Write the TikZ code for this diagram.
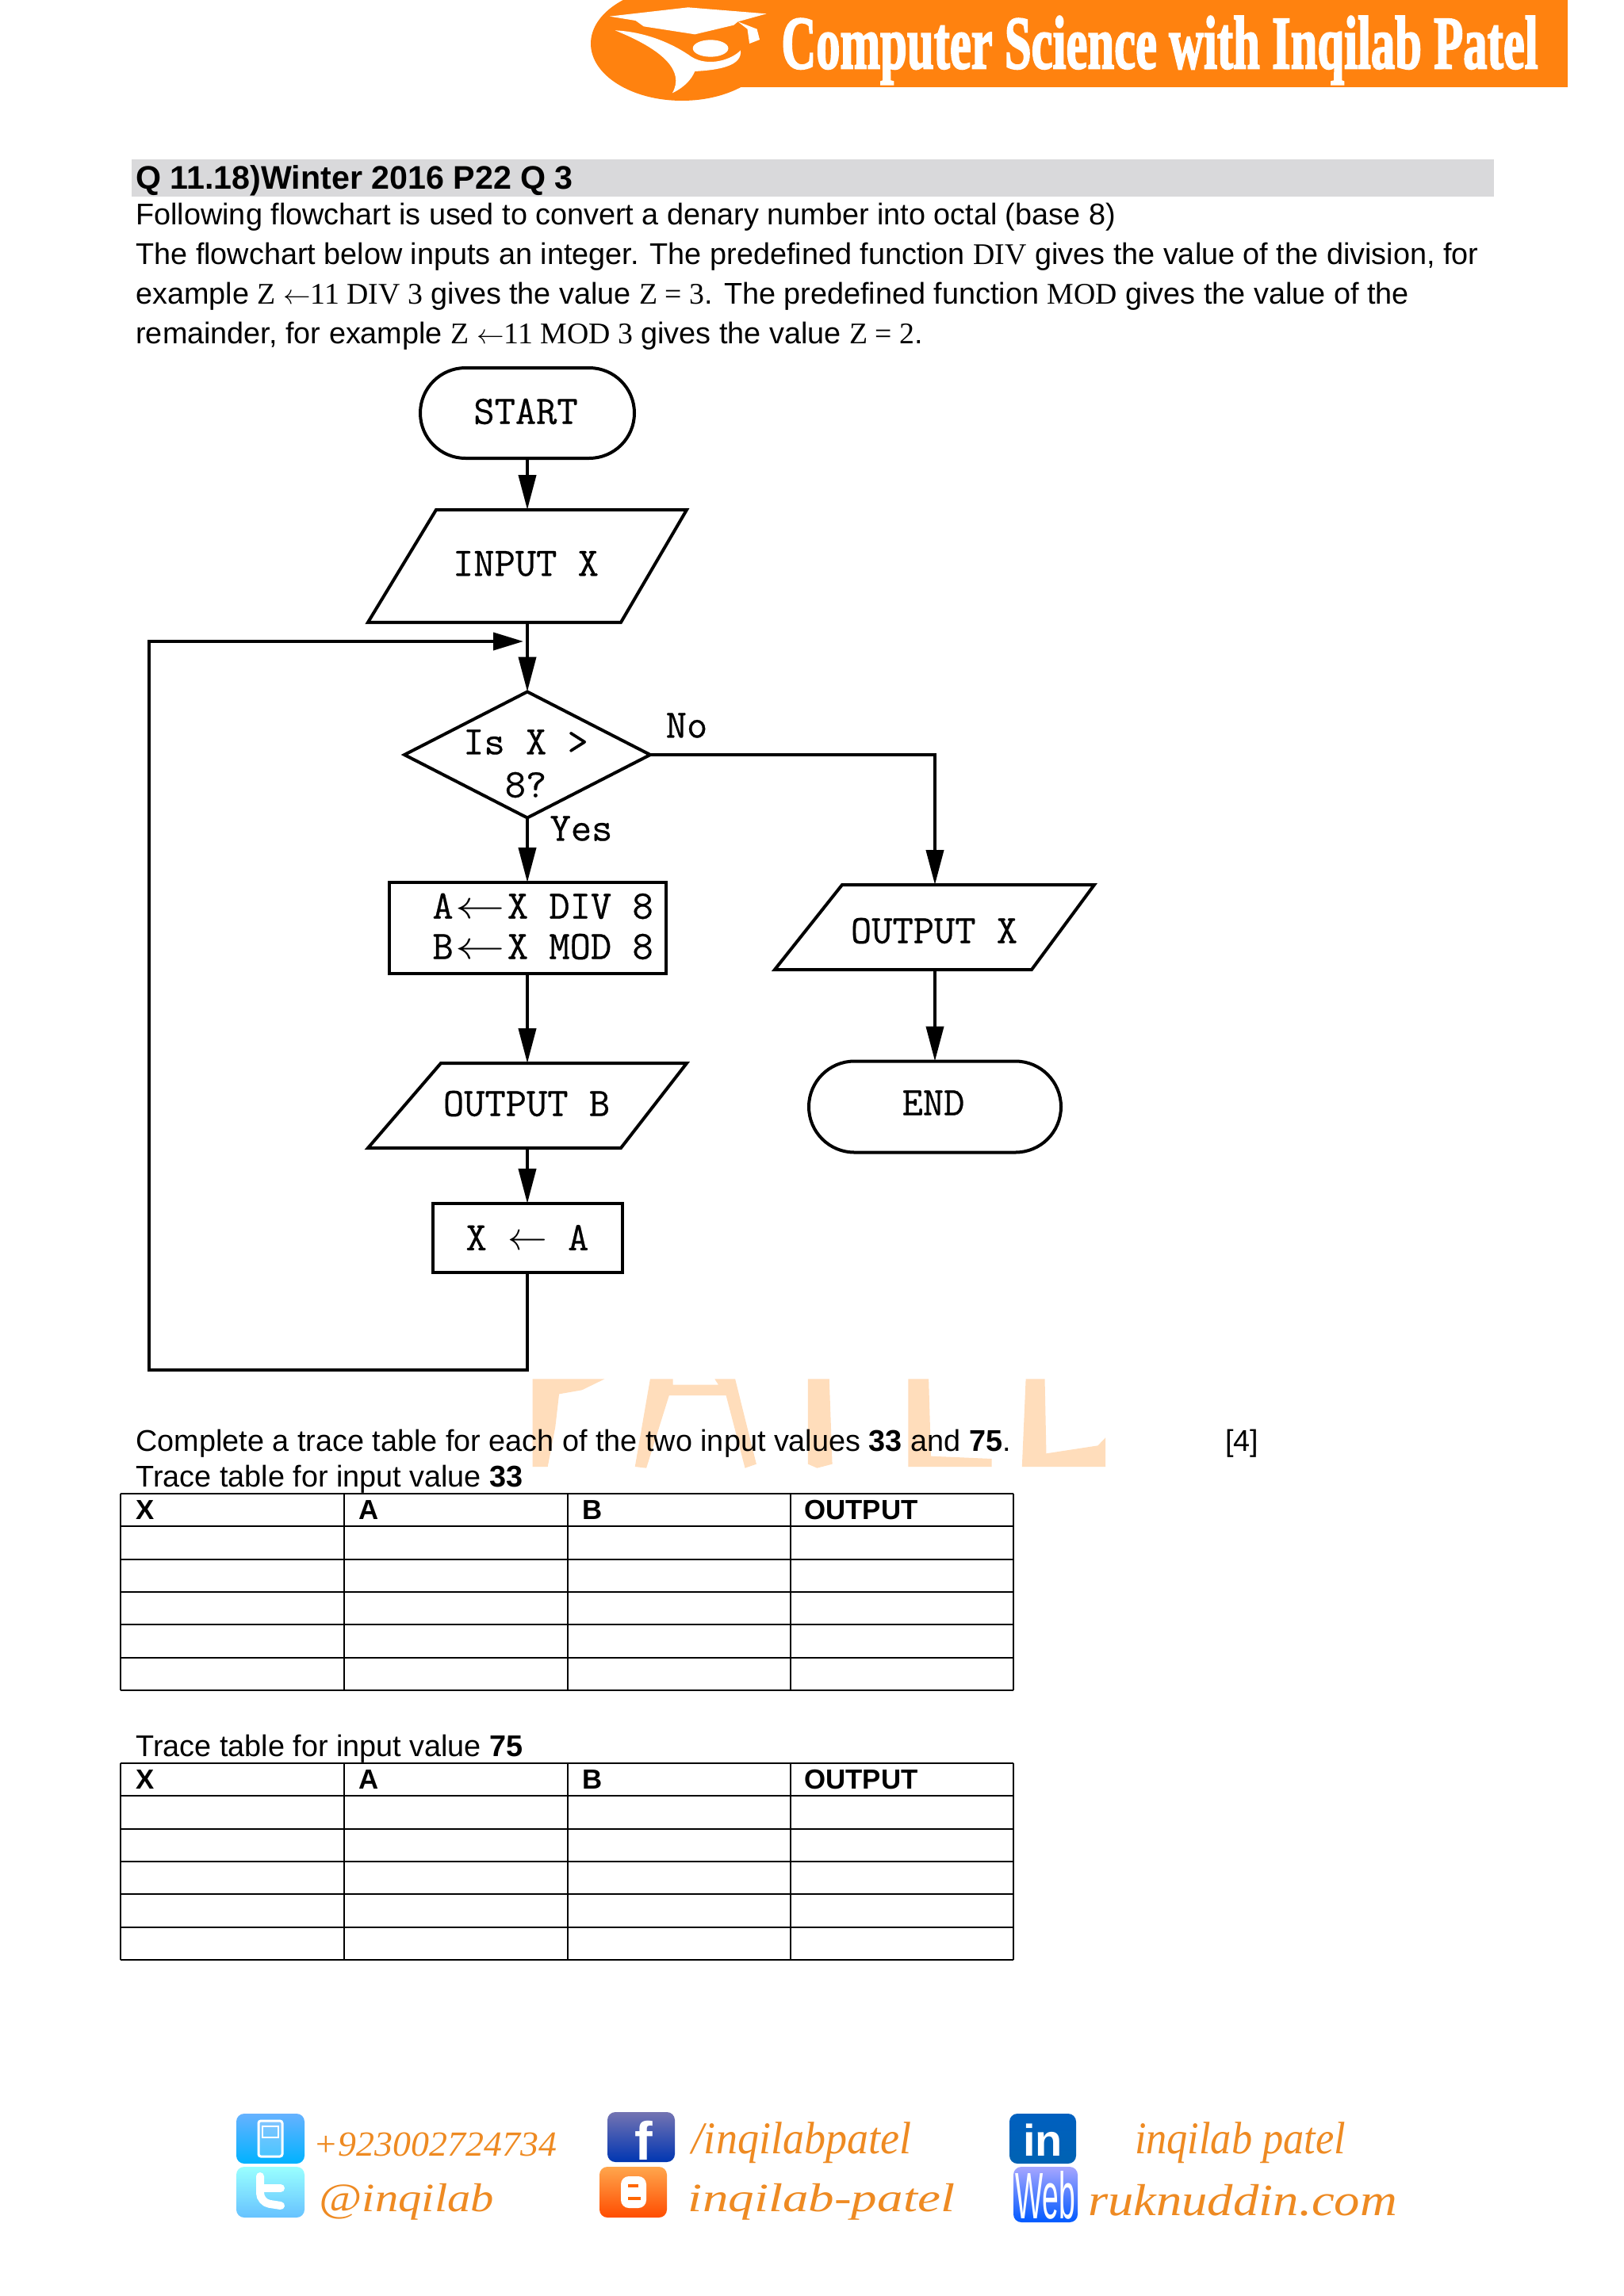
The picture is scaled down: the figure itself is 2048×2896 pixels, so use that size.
\documentclass[tikz,border=0pt]{standalone}
\usepackage{fontspec}
\usepackage{graphicx}
\usetikzlibrary{arrows.meta,shapes.geometric,shapes.misc}
\setmainfont{Liberation Sans}
\newfontfamily\serifx{Liberation Serif}
\newfontfamily\logof[FakeBold=2.5]{Liberation Serif Bold}
\newfontfamily\flowf[FakeBold=0.5]{Latin Modern Mono}
\newcommand{\bodyf}{\fontsize{18.9}{18.9}\selectfont}
\newcommand{\tabf}{\fontsize{17.4}{17.4}\selectfont}
\newcommand{\sr}[1]{{\serifx #1}}
\newcommand{\wideleft}{\hspace{1.5pt}\scalebox{1.25}[1]{$\leftarrow$}\hspace{1.5pt}}
\definecolor{bannerorange}{HTML}{FF820F}
\definecolor{watermark}{HTML}{FFDDBB}
\definecolor{footorange}{HTML}{EE8A22}
\definecolor{titlegray}{HTML}{D9D9DB}
\tikzset{
  x=0.5pt,y=-0.5pt,
  flowline/.style={line width=2pt,draw=black,line join=miter},
  flowarrow/.style={flowline,-{Triangle[length=22pt,width=11pt,fill=black]}},
  sidearrow/.style={flowline,-{Triangle[length=19pt,width=11pt,fill=black]}},
  terminal/.style={rounded rectangle,draw=black,line width=2pt,inner sep=0,outer sep=0},
  procbox/.style={rectangle,draw=black,line width=2pt,inner sep=0,outer sep=0},
  decision/.style={diamond,draw=black,line width=2pt,inner sep=0,outer sep=0},
  flowtext/.style={inner sep=0,font=\flowf\fontsize{25.5}{25.5}\selectfont},
  bodytext/.style={anchor=base west,inner sep=0,font=\bodyf},
  cellhead/.style={anchor=base west,inner sep=0,font=\tabf\bfseries},
  tabline/.style={line width=1pt,draw=black},
  foottext/.style={inner sep=0,text=footorange},
  icon/.style={rounded corners=5pt,draw=none},
  icontext/.style={inner sep=0,text=white,font=\bfseries}
}
\newcommand{\foot}[3]{\resizebox*{#1}{#2}{\serifx\itshape #3}}
\begin{document}
\begin{tikzpicture}
\useasboundingbox (0,0) rectangle (2048,2896);
\fill[white] (0,0) rectangle (2048,2896);

% banner
\begin{scope}
\clip (0,0) rectangle (2048,2896);
\fill[bannerorange] (860,55) ellipse [x radius=115,y radius=72];
\fill[bannerorange] (800,0) rectangle (1977,110);
\end{scope}
\begin{scope}[shift={(700,0)},xscale=0.86,yscale=0.3333]
  \fill[white] (80,62) -- (195,28) -- (310,52) -- (268,82) -- (262,95) -- (205,130) -- (130,100) -- (118,78) -- cycle;
  \fill[white] (268,82) -- (282,110) -- (285,165) -- (300,150) -- (296,110) -- cycle;
  \fill[white] (88,115) .. controls (130,120) and (170,160) .. (200,215) .. controls (225,255) and (260,225) .. (272,190) .. controls (275,250) and (240,265) .. (205,270) .. controls (200,300) and (190,330) .. (172,352) .. controls (190,270) and (160,190) .. (88,115) -- cycle;
  \fill[white] (228,183) ellipse [x radius=26,y radius=32];
\end{scope}
\node[anchor=north west,inner sep=0,text=white] (logotext) at (985,20)
  {\resizebox*{477pt}{43pt}{\logof Computer Science with Inqilab Patel}};

% title and intro
\fill[titlegray] (166,201) rectangle (1884,248);
\node[bodytext,font=\fontsize{20.6}{20.6}\selectfont\bfseries] (title) at (171,238) {Q 11.18)Winter 2016 P22 Q 3};
\node[bodytext] (l1) at (171,283) {Following flowchart is used to convert a denary number into octal (base 8)};
\node[bodytext] (l2) at (171,333) {The flowchart below inputs an integer. The predefined function \sr{DIV} gives the value of the division, for};
\node[bodytext] (l3) at (171,383) {example \sr{Z $\leftarrow$11 DIV 3} gives the value \sr{Z = 3}. The predefined function \sr{MOD} gives the value of the};
\node[bodytext] (l4) at (171,433) {remainder, for example \sr{Z $\leftarrow$11 MOD 3} gives the value \sr{Z = 2}.};

% flowchart shapes
\node[terminal,minimum width=135pt,minimum height=57pt] (start) at (665,521) {};
\node[flowtext] (starttxt) at (663,519) {START};
\draw[flowline] (550,643) -- (866,643) -- (783,785) -- (464,785) -- cycle;
\node[flowtext] (inputtxt) at (663,711) {INPUT X};
\coordinate (inputtop) at (665,643);
\coordinate (inputbot) at (665,785);
\coordinate (join) at (665,809);
\node[decision,minimum width=155pt,minimum height=79.5pt,shape aspect=1.95] (dec) at (665,952) {};
\node[flowtext] (dec1) at (663,936) {Is X >};
\node[flowtext] (dec2) at (663,990) {8?};
\node[flowtext] (no) at (866,915) {No};
\node[flowtext] (yes) at (733,1045) {Yes};
\node[procbox,minimum width=174.5pt,minimum height=57.5pt] (calc) at (665,1170.5) {};
\node[flowtext,anchor=west] (calc1) at (545,1143) {A\wideleft X DIV 8};
\node[flowtext,anchor=west] (calc2) at (545,1194) {B\wideleft X MOD 8};
\draw[flowline] (1062,1116) -- (1380,1116) -- (1301,1223) -- (977,1223) -- cycle;
\node[flowtext] (outxtxt) at (1178,1174) {OUTPUT X};
\coordinate (outxtop) at (1179,1116);
\coordinate (outxbot) at (1179,1223);
\draw[flowline] (556,1341) -- (866,1341) -- (783,1448) -- (464,1448) -- cycle;
\node[flowtext] (outbtxt) at (664,1392) {OUTPUT B};
\coordinate (outbtop) at (665,1341);
\coordinate (outbbot) at (665,1448);
\node[terminal,minimum width=159pt,minimum height=57.5pt] (end) at (1179,1396) {};
\node[flowtext] (endtxt) at (1177,1391) {END};
\node[procbox,minimum width=119.5pt,minimum height=43.5pt] (assign) at (665,1561.5) {};
\node[flowtext] (assigntxt) at (665,1561) {X $\leftarrow$ A};
\coordinate (retdown) at (665,1728);
\coordinate (retleft) at (188,1728);
\coordinate (retup) at (188,809);

% connectors
\draw[flowarrow] (start.south) -- (inputtop);
\draw[flowarrow] (inputbot) -- (dec.north);
\draw[flowarrow] (dec.south) -- (calc.north);
\draw[flowarrow] (dec.east) -| (outxtop);
\draw[flowarrow] (calc.south) -- (outbtop);
\draw[flowarrow] (outxbot) -- (end.north);
\draw[flowarrow] (outbbot) -- (assign.north);
\draw[sidearrow,shorten >=2.5pt] (assign.south) -- (retdown) -- (retleft) -- (retup) -- (join);

% watermark
\begin{scope}[shift={(150,1700)},xscale=0.957,yscale=0.3333]
  \fill[watermark] (545,118) -- (640,118) -- (610,160) -- (580,175) -- (575,300) -- (565,450) -- (545,450) -- cycle;
  \fill[watermark] (700,118) -- (730,118) -- (730,140) -- (790,140) -- (785,118) -- (812,118) -- (840,440) -- (825,455) -- (800,180) -- (725,180) -- (695,455) -- (680,450) -- cycle;
  \fill[watermark] (908,118) -- (936,118) -- (940,440) -- (920,455) -- (908,440) -- cycle;
  \fill[watermark] (1040,118) -- (1067,118) -- (1070,410) -- (1150,420) -- (1150,450) -- (1040,450) -- cycle;
  \fill[watermark] (1195,118) -- (1220,118) -- (1222,400) -- (1290,370) -- (1300,340) -- (1300,450) -- (1190,450) -- cycle;
\end{scope}

% lower text
\node[bodytext] (complete) at (171,1830) {Complete a trace table for each of the two input values \textbf{33} and \textbf{75}.};
\node[bodytext] (mark) at (1545,1830) {[4]};
\node[bodytext] (trace1) at (171,1875) {Trace table for input value \textbf{33}};
\node[bodytext] (trace2) at (171,2215) {Trace table for input value \textbf{75}};

% tables
\foreach \ytop/\tname in {1884/a,2224/b}{
  \foreach \r in {0,...,6}{
    \draw[tabline] (152,{\ytop+\r*41.3}) -- (1278,{\ytop+\r*41.3});
  }
  \foreach \cx in {152,434,716,997,1278}{
    \draw[tabline] (\cx,\ytop) -- (\cx,{\ytop+6*41.3});
  }
  \node[cellhead] (hx\tname) at (171,\ytop+32) {X};
  \node[cellhead] (ha\tname) at (452,\ytop+32) {A};
  \node[cellhead] (hb\tname) at (734,\ytop+32) {B};
  \node[cellhead] (ho\tname) at (1014,\ytop+32) {OUTPUT};
}

% footer icons
\shade[icon,top color=cyan!50!blue!60,bottom color=cyan!70!blue] (298,2666) rectangle (384,2729);
\draw[white,line width=1.5pt,rounded corners=1.5pt,fill=white,fill opacity=0.25] (326,2675) rectangle (356,2720);
\draw[white,line width=1pt] (331,2682) rectangle (351,2696);
\shade[icon,top color=blue!35!white!70!black,bottom color=blue!70!cyan!70!black] (766,2664) rectangle (851,2727);
\node[icontext,font=\bfseries\fontsize{34}{34}\selectfont] (fb) at (812,2700) {f};
\shade[icon,top color=blue!50!cyan!75!black,bottom color=blue!45!cyan!70!black] (1273,2666) rectangle (1357,2729);
\node[icontext,font=\bfseries\fontsize{28}{28}\selectfont] (li) at (1315,2699) {in};
\shade[icon,top color=cyan!40!white,bottom color=cyan!60!blue!60] (298,2733) rectangle (384,2797);
\draw[white,line width=5pt,line cap=round,rounded corners=6pt] (328,2745) -- (328,2778) -- (354,2782);
\draw[white,line width=5pt,line cap=round] (328,2760) -- (354,2760);
\shade[icon,top color=orange!70!white,bottom color=orange!60!red] (756,2733) rectangle (841,2797);
\fill[white,rounded corners=5pt] (783,2745) rectangle (815,2785);
\fill[orange!80!red] (792,2755) rectangle (805,2759);
\fill[orange!80!red] (792,2771) rectangle (808,2775);
\shade[icon,top color=blue!35!white,bottom color=blue!65!cyan] (1278,2733) rectangle (1359,2803);
\node[icontext,font=\fontsize{21}{21}\selectfont] (web) at (1318,2769) {\resizebox{38pt}{30pt}{Web}};

% footer texts
\node[foottext] (f1) at (549,2705) {\foot{153pt}{15pt}{+923002724734}};
\node[foottext] (f2) at (1011,2703) {\foot{138pt}{26pt}{/inqilabpatel}};
\node[foottext] (f3) at (1564,2703) {\foot{133pt}{26pt}{inqilab patel}};
\node[foottext] (f4) at (513,2777) {\foot{110pt}{23pt}{@inqilab}};
\node[foottext] (f5) at (1036,2777) {\foot{168pt}{23pt}{inqilab-patel}};
\node[foottext] (f6) at (1567,2775) {\foot{195pt}{20pt}{ruknuddin.com}};
\end{tikzpicture}
\end{document}
